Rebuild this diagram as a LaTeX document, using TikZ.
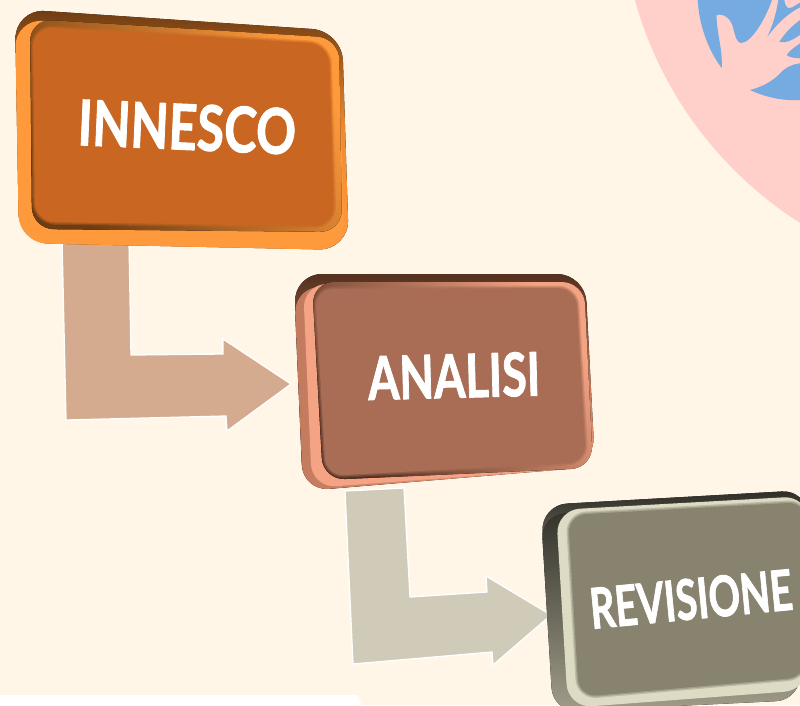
\documentclass[tikz,border=0pt]{standalone}
\usepackage{fontspec}
\setmainfont{Lato}[BoldFeatures={FakeBold=1.6}]
\definecolor{bgc}{HTML}{FFF6E8}
\definecolor{pinkc}{HTML}{FFD0CA}
\definecolor{bluec}{HTML}{76ABE1}
\definecolor{orA}{HTML}{C96722}\definecolor{orD}{HTML}{6E3C12}\definecolor{orL}{HTML}{FF9A3C}\definecolor{orM}{HTML}{F08A2E}
\definecolor{brA}{HTML}{A96C55}\definecolor{brD}{HTML}{54301F}\definecolor{brL}{HTML}{F4A484}\definecolor{brM}{HTML}{C27A5E}
\definecolor{grA}{HTML}{87836F}\definecolor{grD}{HTML}{2E2D26}\definecolor{grL}{HTML}{DEDBC4}\definecolor{grM}{HTML}{A09D8A}
\definecolor{arrA}{HTML}{D4AB8E}\definecolor{arrB}{HTML}{CFCBB8}
\tikzset{
  elbow/.style={line width=1.3pt,draw=white,line join=miter},
  boxlabel/.style={inner sep=0pt,text=white,font=\bfseries},
  rc/.style={rounded corners=#1},
  softface/.style 2 args={preaction={draw=#1,line width=5pt,opacity=.35},preaction={draw=#1,line width=2.5pt,opacity=.5},fill=#1,rounded corners=#2},
}
\begin{document}
\begin{tikzpicture}[x=1pt,y=-1pt]
\useasboundingbox (0,0) rectangle (800,705);
\fill[bgc] (0,0) rectangle (800,705);
\fill[white] (0,695) -- (357,695) -- (362,705) -- (0,705) -- cycle;
% badge
\fill[pinkc] (1007,-103) circle (386);
\fill[bluec] (697.7,0) .. controls (699,25) and (708,50) .. (721.7,68)
  .. controls (723,50) and (716,30) .. (716.7,15) .. controls (725,13) and (731,20) .. (733,27)
  .. controls (735,36) and (737,43) .. (741,43) .. controls (751,43) and (765,20) .. (772,0) -- cycle;
\fill[bluec] (767.3,36.7) .. controls (772,27) and (776,15) .. (778.3,0) -- (784.3,0)
  .. controls (785,5) and (787,9) .. (790,8) .. controls (794,7) and (797,4) .. (800,2.7) -- (800,7.3) .. controls (787,14) and (777,24) .. cycle;
\fill[bluec] (779.3,41.7) .. controls (785,33) and (792,26) .. (800,20) -- (800,35) .. controls (795,38) and (787,44) .. cycle;
\fill[bluec] (786.7,55) .. controls (790,50) and (795,47) .. (800,43.3) -- (800,58.3) .. controls (796,58) and (790,58) .. cycle;
\fill[bluec] (750,90) .. controls (762,87) and (773,81) .. (780,73.3) .. controls (786,67) and (793,64) .. (800,63.3) -- (800,100) .. controls (782,101) and (765,97) .. cycle;
% arrows
\draw[elbow,fill=arrA] (62,239) -- (129,240) -- (131,355) -- (223,354) -- (223,339) -- (291,384) -- (227,431) -- (226,416) -- (66,420) -- cycle;
\draw[elbow,fill=arrB] (345,491) -- (404,488) -- (410,597) -- (487,592) -- (486,576) -- (551,615) -- (493,665) -- (492,652) -- (353,664) -- cycle;
% INNESCO
\fill[top color=orD,bottom color=orL,middle color=orM,rc=30] (15,9) -- (342,31) -- (349,250) -- (19,243) -- cycle;
\fill[orL,rc=28] (15,19) -- (338,40) -- (345,250) -- (19,243) -- cycle;
\fill[left color=orD,right color=orL,shading angle=125,rc=22] (30,19) -- (339,38) -- (342,232) -- (32,229) -- cycle;
\path[softface={orA}{20}] (33,27) -- (329,44) -- (334,226) -- (35,222) -- cycle;
\node[boxlabel,rotate=-2.5] (innesco) at (187,127) {\resizebox{218pt}{46pt}{INNESCO}};
% ANALISI
\fill[top color=brD,bottom color=brL,middle color=brM,rc=28] (294,274) -- (585,274) -- (595,465) -- (303,491) -- cycle;
\fill[left color=brM,right color=brL,rc=26] (294,287) -- (580,284) -- (592,467) -- (303,491) -- cycle;
\fill[brL,rc=24] (303,284) -- (580,284) -- (590,467) -- (312,488) -- cycle;
\fill[left color=brD,right color=brL,shading angle=125,rc=22] (312,282) -- (584,282) -- (593,468) -- (323,480) -- cycle;
\path[softface={brA}{18}] (315,289) -- (576,288) -- (586,462) -- (326,476) -- cycle;
\node[boxlabel,rotate=1.5] (analisi) at (454,376) {\resizebox{172pt}{44pt}{ANALISI}};
% REVISIONE
\fill[top color=grD,bottom color=grL,middle color=grM,rc=26] (541,505) -- (808,490) -- (808,690) -- (553,705) -- cycle;
\fill[top color=grD,bottom color=grM,rc=24] (541,515) -- (800,500) -- (800,700) -- (553,712) -- cycle;
\fill[grL,rc=24] (556,510) -- (808,496) -- (808,690) -- (568,708) -- cycle;
\path[softface={grA}{18}] (568,515) -- (806,502) -- (806,677) -- (579,697) -- cycle;
\node[boxlabel,rotate=5.5] (revisione) at (691,599) {\resizebox{203pt}{41pt}{REVISIONE}};
\end{tikzpicture}
\end{document}
